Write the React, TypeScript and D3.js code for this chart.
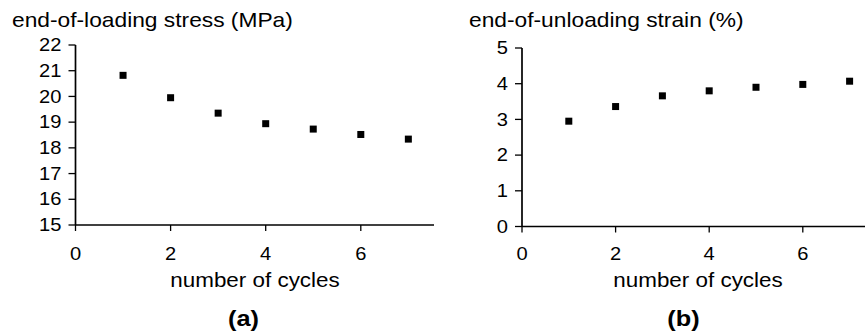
import { useEffect, useRef } from 'react';
import * as d3 from 'd3';

// cycle numbers shared by both panels
const cycles = [1, 2, 3, 4, 5, 6, 7];
// (a) end-of-loading stress, MPa
const stressValues = [20.82, 19.95, 19.35, 18.94, 18.73, 18.52, 18.34];
// (b) end-of-unloading strain, %
const strainValues = [2.95, 3.36, 3.66, 3.8, 3.9, 3.98, 4.07];

const xTicks = [0, 2, 4, 6];
const stressTicks = [15, 16, 17, 18, 19, 20, 21, 22];
const strainTicks = [0, 1, 2, 3, 4, 5];

const FONT = '"Liberation Sans", Arial, sans-serif';
const SX = 1.15; // the original figure is stretched horizontally

const App = () => {
  const ref = useRef<SVGSVGElement>(null);

  useEffect(() => {
    const svg = d3.select(ref.current);
    svg.selectAll('*').remove();

    const panels = [
      {
        id: 'a',
        title: 'end-of-loading stress (MPa)',
        titleX: 12,
        values: stressValues,
        yTicks: stressTicks,
        x: d3.scaleLinear().domain([0, 8]).range([75.5, 75.5 + 8 * 47.55]),
        y: d3.scaleLinear().domain([15, 22]).range([225, 45]),
        clipRight: 434,
        xLabelX: 255,
        tagX: 243.5,
      },
      {
        id: 'b',
        title: 'end-of-unloading strain (%)',
        titleX: 469,
        values: strainValues,
        yTicks: strainTicks,
        x: d3.scaleLinear().domain([0, 8]).range([522, 522 + 8 * 46.8]),
        y: d3.scaleLinear().domain([0, 5]).range([226.5, 48]),
        clipRight: 865,
        xLabelX: 698,
        tagX: 683.5,
      },
    ];

    const text = (
      g: d3.Selection<SVGGElement, unknown, null, undefined>,
      x: number,
      y: number,
      s: string,
      size: number,
      anchor: string,
      weight = 'normal'
    ) =>
      g
        .append('text')
        .attr('transform', `translate(${x},${y}) scale(${SX},1)`)
        .attr('text-anchor', anchor)
        .style('font-family', FONT)
        .style('font-size', `${size}px`)
        .style('font-weight', weight)
        .attr('fill', '#000')
        .text(s);

    panels.forEach((p) => {
      const g = svg.append('g');
      const x0 = p.x(0);
      const yBottom = p.y.range()[0];
      const yTop = p.y.range()[1];

      // axes
      g.append('line')
        .attr('x1', x0)
        .attr('x2', p.clipRight)
        .attr('y1', yBottom)
        .attr('y2', yBottom)
        .attr('stroke', '#000')
        .attr('stroke-width', 1.7);
      g.append('line')
        .attr('x1', x0)
        .attr('x2', x0)
        .attr('y1', yTop)
        .attr('y2', yBottom)
        .attr('stroke', '#000')
        .attr('stroke-width', 1.7);

      p.yTicks.forEach((t) => {
        g.append('line')
          .attr('x1', x0 - 7)
          .attr('x2', x0)
          .attr('y1', p.y(t))
          .attr('y2', p.y(t))
          .attr('stroke', '#000')
          .attr('stroke-width', 1.3);
        text(g, x0 - 14, p.y(t) + 6.2, String(t), 17.5, 'end');
      });

      xTicks.forEach((t) => {
        g.append('line')
          .attr('x1', p.x(t))
          .attr('x2', p.x(t))
          .attr('y1', yBottom)
          .attr('y2', yBottom + 6)
          .attr('stroke', '#000')
          .attr('stroke-width', 1.3);
        text(g, p.x(t), 259.5, String(t), 17.5, 'middle');
      });

      // markers
      g.selectAll('rect.pt')
        .data(p.values)
        .join('rect')
        .attr('class', 'pt')
        .attr('x', (_, i) => p.x(cycles[i]) - 3.5)
        .attr('y', (d) => p.y(d) - 3.5)
        .attr('width', 7)
        .attr('height', 7)
        .attr('fill', '#000');

      text(g, p.titleX, 27, p.title, 19.8, 'start');
      text(g, p.xLabelX, 287, 'number of cycles', 19.5, 'middle');
      text(g, p.tagX, 326, `(${p.id})`, 22, 'middle', 'bold');
    });
  }, []);

  return (
    <svg
      ref={ref}
      width={865}
      height={334}
      style={{ position: 'absolute', left: 0, top: 0, background: '#fff' }}
    />
  );
};

export default App;
